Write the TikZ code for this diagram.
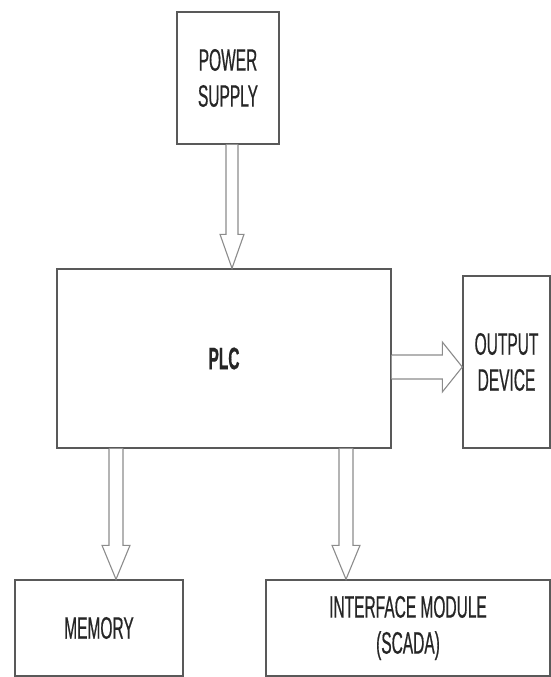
\documentclass[tikz,border=0pt]{standalone}
\usepackage{fontspec}
\newfontfamily\narrowsf{Liberation Sans}[FakeStretch=0.5,FakeBold=0.5]
\usepackage{tikz}
\usetikzlibrary{calc, positioning}

% hollow block arrow pointing down: #1 start, #2 tip, #3 shaft half width, #4 head half width
\newcommand{\vblock}[4]{%
  \draw[blockarr] ($(#1)+(-#3,0)$) -- ($(#2)+(-#3,-34)$) -- ($(#2)+(-#4,-34)$)
    -- (#2) -- ($(#2)+(#4,-34)$) -- ($(#2)+(#3,-34)$) -- ($(#1)+(#3,0)$);}

\begin{document}
\begin{tikzpicture}[x=1pt,y=-1pt]
 \tikzstyle{plcbox}=[rectangle,draw=black!65,line width=1.4pt,fill=white,
   text=black!85,font=\narrowsf\fontsize{31}{36}\selectfont,align=center,
   inner sep=0pt]
 \tikzstyle{blockarr}=[draw=black!45,line width=1.1pt,fill=white,line join=miter]
 \useasboundingbox (0,0) rectangle (551,677);

 \node (ps) [plcbox,minimum width=102pt,minimum height=132pt] at (228,78)
   {POWER\\SUPPLY};
 \node (plc) [plcbox,minimum width=334pt,minimum height=179pt] at (224,358.5)
   {\bfseries PLC};
 \node (out) [plcbox,minimum width=87pt,minimum height=172pt] at (506.5,362)
   {OUTPUT\\DEVICE};
 \node (mem) [plcbox,minimum width=168pt,minimum height=96pt] at (99,628)
   {MEMORY};
 \node (ifm) [plcbox,minimum width=284pt,minimum height=96pt] at (408,628)
   {INTERFACE MODULE\\(SCADA)};

 % arrow ends
 \coordinate (pstop) at ($(ps.south)+(4,0)$);
 \coordinate (pstip) at (pstop |- plc.north);
 \coordinate (memtip) at ($(mem.north)+(17,0)$);
 \coordinate (memtop) at (memtip |- plc.south);
 \coordinate (ifmtip) at ($(ifm.north)+(-62,0)$);
 \coordinate (ifmtop) at (ifmtip |- plc.south);
 \coordinate (outfrom) at ($(plc.east)+(0,8.5)$);
 \coordinate (outtip) at (outfrom -| out.west);

 \vblock{pstop}{pstip}{6}{12}
 \vblock{memtop}{memtip}{7}{14}
 \vblock{ifmtop}{ifmtip}{7}{14}
 \draw[blockarr] ($(outfrom)+(0,-12)$) -- ($(outtip)+(-20,-12)$)
   -- ($(outtip)+(-20,-25)$) -- (outtip) -- ($(outtip)+(-20,25)$)
   -- ($(outtip)+(-20,12)$) -- ($(outfrom)+(0,12)$);
\end{tikzpicture}
\end{document}
